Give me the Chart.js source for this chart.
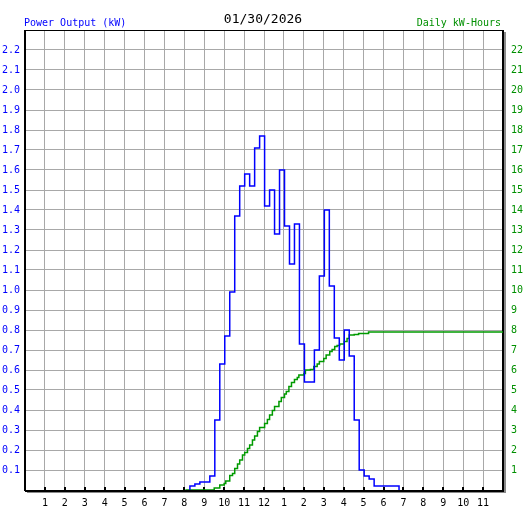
<!DOCTYPE html>
<html><head><meta charset="utf-8">
<script src="https://cdn.jsdelivr.net/npm/chart.js@4/dist/chart.umd.min.js"></script>
<style>html,body{margin:0;padding:0;background:#fff;}canvas{display:block;}</style>
</head><body>
<canvas id="c" width="527" height="510"></canvas>
<script>
// ---- text ----
const dateTitle = '01/30/2026';
const leftTitle = 'Power Output (kW)';
const rightTitle = 'Daily kW-Hours';

// ---- x axis: hours of day 0..24 ----
const hourLabels = ['', '1','2','3','4','5','6','7','8','9','10','11','12',
                    '1','2','3','4','5','6','7','8','9','10','11',''];

// ---- power output (kW), one reading per 15 minutes ----
const powerStartHour = 8.28;
const powerStepHours = 0.25;
const powerKW = [
  0.02, 0.03, 0.04, 0.04, 0.07, 0.35, 0.63, 0.77, 0.99, 1.37,
  1.52, 1.58, 1.52, 1.71, 1.77, 1.42, 1.50, 1.28, 1.60, 1.32,
  1.13, 1.33, 0.73, 0.54, 0.54, 0.70, 1.07, 1.40, 1.02, 0.76,
  0.65, 0.80, 0.67, 0.35, 0.10, 0.07, 0.055, 0.02, 0.02, 0.02,
  0.02, 0.02, 0
];

// ---- cumulative daily energy (kWh) ----
const energyHours = [
  8.05, 9.50, 9.78, 10.00, 10.08, 10.28, 10.42, 10.53, 10.67, 10.78,
  10.92, 11.03, 11.17, 11.28, 11.42, 11.53, 11.67, 11.78, 12.03, 12.17,
  12.28, 12.42, 12.53, 12.75, 12.87, 13.03, 13.12, 13.25, 13.38, 13.53,
  13.67, 13.75, 14.00, 14.08, 14.33, 14.50, 14.67, 14.78, 15.00, 15.12,
  15.30, 15.42, 15.55, 15.67, 15.80, 16.03, 16.17, 16.28, 16.53, 16.75,
  17.25, 24
];
const energyKWh = [
  0, 0.10, 0.25, 0.33, 0.45, 0.72, 0.83, 1.08, 1.30, 1.50,
  1.75, 1.87, 2.08, 2.25, 2.50, 2.70, 2.92, 3.13, 3.33, 3.53,
  3.75, 3.97, 4.17, 4.42, 4.62, 4.80, 4.92, 5.17, 5.37, 5.53,
  5.63, 5.75, 5.83, 6.00, 6.03, 6.17, 6.30, 6.42, 6.58, 6.75,
  6.92, 7.03, 7.17, 7.22, 7.30, 7.42, 7.58, 7.75, 7.78, 7.83,
  7.90, 7.90
];

// ---- axis ranges ----
const powerMax = 2.3;
const energyMax = 23;

const MONO = '"DejaVu Sans Mono", "Liberation Mono", monospace';
const BLUE = '#0000ff';
const GREEN = '#009000';
const LINE_GREEN = '#009a00';

const powerTimes = powerKW.map((_, i) => powerStartHour + i * powerStepHours);
const powerPoints = [{x: powerTimes[0], y: 0}].concat(
  powerKW.map((v, i) => ({x: powerTimes[i], y: v})));
const energyPoints = energyKWh.map((v, i) => ({x: energyHours[i], y: v}));

const framePlugin = {
  id: 'frame',
  beforeDatasetsDraw(chart) {
    const {ctx, chartArea: a} = chart;
    const xs = chart.scales.x;
    ctx.save();
    // shadow
    ctx.strokeStyle = '#8a8a8a';
    ctx.lineWidth = 2;
    ctx.beginPath();
    ctx.moveTo(a.right + 2, a.top + 2);
    ctx.lineTo(a.right + 2, a.bottom + 2);
    ctx.lineTo(a.left + 2, a.bottom + 2);
    ctx.stroke();
    // black frame
    ctx.strokeStyle = '#000';
    ctx.lineWidth = 1;
    ctx.beginPath();
    ctx.moveTo(a.left, a.top + 0.5); ctx.lineTo(a.right, a.top + 0.5);
    ctx.stroke();
    ctx.lineWidth = 2;
    ctx.beginPath();
    ctx.moveTo(a.left, a.top); ctx.lineTo(a.left, a.bottom + 1);
    ctx.moveTo(a.right, a.top); ctx.lineTo(a.right, a.bottom + 1);
    ctx.moveTo(a.left, a.bottom + 1); ctx.lineTo(a.right + 1, a.bottom + 1);
    ctx.stroke();
    // hour tick marks
    ctx.lineWidth = 2;
    ctx.beginPath();
    for (let h = 1; h < 24; h++) {
      const px = Math.round(xs.getPixelForValue(h));
      ctx.moveTo(px, a.bottom - 3); ctx.lineTo(px, a.bottom + 1);
    }
    ctx.stroke();
    ctx.restore();
  },
  afterDraw(chart) {
    const {ctx} = chart;
    ctx.save();
    ctx.textBaseline = 'middle';
    ctx.font = '13px ' + MONO;
    ctx.fillStyle = '#000';
    ctx.textAlign = 'center';
    ctx.fillText(dateTitle, 263, 20);
    ctx.font = '10px ' + MONO;
    ctx.fillStyle = BLUE;
    ctx.textAlign = 'left';
    ctx.fillText(leftTitle, 24, 23);
    ctx.fillStyle = GREEN;
    ctx.textAlign = 'right';
    ctx.fillText(rightTitle, 501, 23);
    ctx.restore();
  }
};

new Chart(document.getElementById('c'), {
  type: 'line',
  data: {
    datasets: [
      {
        label: 'Power Output (kW)',
        data: powerPoints,
        yAxisID: 'y',
        borderColor: BLUE,
        borderWidth: 1.5,
        stepped: true,
        pointRadius: 0,
        fill: false
      },
      {
        label: 'Daily kW-Hours',
        data: energyPoints,
        yAxisID: 'y2',
        borderColor: LINE_GREEN,
        borderWidth: 1.5,
        stepped: true,
        pointRadius: 0,
        fill: false
      }
    ]
  },
  options: {
    responsive: false,
    animation: false,
    devicePixelRatio: 1,
    layout: {padding: {top: 30, left: 0, right: 0, bottom: 0}},
    plugins: {legend: {display: false}, tooltip: {enabled: false}, title: {display: false}},
    scales: {
      x: {
        type: 'linear', min: 0, max: 24,
        afterBuildTicks: (s) => { s.ticks = hourLabels.map((_, i) => ({value: i})); },
        ticks: {
          autoSkip: false, maxRotation: 0, padding: 7,
          color: '#000', font: {family: MONO, size: 10},
          callback: (v) => hourLabels[v]
        },
        grid: {color: '#a8a8a8', lineWidth: 1, drawTicks: false},
        border: {display: false},
        afterFit: (s) => { s.height = 20; }
      },
      y: {
        position: 'left', min: 0, max: powerMax,
        afterBuildTicks: (s) => { s.ticks = Array.from({length: 24}, (_, i) => ({value: i / 10})); },
        ticks: {
          autoSkip: false, padding: 5,
          color: BLUE, font: {family: MONO, size: 10},
          callback: (v) => (v > 0.05 && v < 2.25) ? v.toFixed(1) : ''
        },
        grid: {color: '#a8a8a8', lineWidth: 1, drawTicks: false},
        border: {display: false},
        afterFit: (s) => { s.width = 25; }
      },
      y2: {
        position: 'right', min: 0, max: energyMax,
        afterBuildTicks: (s) => { s.ticks = Array.from({length: 24}, (_, i) => ({value: i})); },
        ticks: {
          autoSkip: false, padding: 8,
          color: GREEN, font: {family: MONO, size: 10},
          callback: (v) => (v >= 1 && v <= 22) ? String(v) : ''
        },
        grid: {display: false, drawTicks: false},
        border: {display: false},
        afterFit: (s) => { s.width = 24; }
      }
    }
  },
  plugins: [framePlugin]
});
</script>
</body></html>
